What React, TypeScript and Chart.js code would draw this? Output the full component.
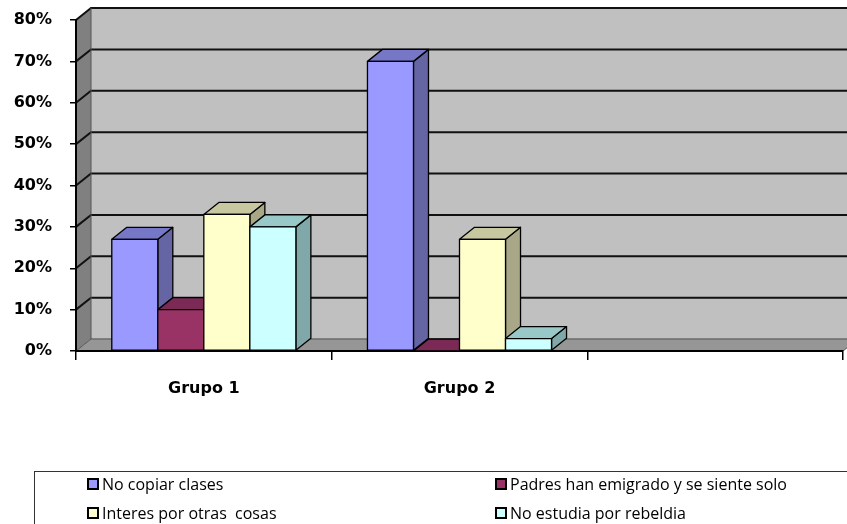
import React, { useEffect, useRef } from "react";
import { Chart, registerables } from "chart.js";

Chart.register(...registerables);

const categories = ["Grupo 1", "Grupo 2", ""];
const seriesNames = [
  "No copiar clases",
  "Padres han emigrado y se siente solo",
  "Interes por otras  cosas",
  "No estudia por rebeldia",
];
const noCopiar = [27, 70, null];
const padres = [10, 0, null];
const interes = [33, 27, null];
const rebeldia = [30, 3, null];
const yTicks = [0, 10, 20, 30, 40, 50, 60, 70, 80];

const frontColors = ["#9999FF", "#993366", "#FFFFCC", "#CCFFFF"];
const sideColors = ["#6565A3", "#6E2248", "#A8A888", "#80A8A8"];
const topColors = ["#7777C8", "#7A2A55", "#C8C8A0", "#99C8C8"];

const DX = 15;
const DY = -12;

const threeD = {
  id: "threeD",
  beforeDraw(chart: any) {
    const { ctx, chartArea } = chart;
    const y = chart.scales.y;
    const L = chartArea.left;
    const R = chartArea.right;
    const T = y.getPixelForValue(80);
    const B = y.getPixelForValue(0);
    ctx.save();
    ctx.fillStyle = "#C0C0C0";
    ctx.fillRect(L + DX, T + DY, R - L + 40, B - T);
    ctx.fillStyle = "#808080";
    ctx.beginPath();
    ctx.moveTo(L, T);
    ctx.lineTo(L + DX, T + DY);
    ctx.lineTo(L + DX, B + DY);
    ctx.lineTo(L, B);
    ctx.closePath();
    ctx.fill();
    ctx.fillStyle = "#969696";
    ctx.beginPath();
    ctx.moveTo(L, B);
    ctx.lineTo(R, B);
    ctx.lineTo(R + DX, B + DY);
    ctx.lineTo(L + DX, B + DY);
    ctx.closePath();
    ctx.fill();
    ctx.strokeStyle = "#6a6a6a";
    ctx.lineWidth = 1.5;
    ctx.beginPath();
    ctx.moveTo(L + DX, B + DY);
    ctx.lineTo(R + DX + 20, B + DY);
    ctx.stroke();
    ctx.strokeStyle = "#111";
    ctx.lineWidth = 2;
    yTicks.forEach((v) => {
      if (v === 0) return;
      const py = y.getPixelForValue(v);
      ctx.beginPath();
      ctx.moveTo(L, py);
      ctx.lineTo(L + DX, py + DY);
      ctx.lineTo(R + DX + 20, py + DY);
      ctx.stroke();
    });
    ctx.strokeStyle = "#555";
    ctx.lineWidth = 1;
    ctx.beginPath();
    ctx.moveTo(L, B);
    ctx.lineTo(L + DX, B + DY);
    ctx.lineTo(L + DX, T + DY);
    ctx.stroke();
    ctx.beginPath();
    ctx.moveTo(R, B);
    ctx.lineTo(R + DX, B + DY);
    ctx.stroke();
    ctx.restore();
  },
  afterDatasetsDraw(chart: any) {
    const { ctx } = chart;
    const bars: any[] = [];
    chart.data.datasets.forEach((ds: any, di: number) => {
      const meta = chart.getDatasetMeta(di);
      meta.data.forEach((el: any, i: number) => {
        if (ds.data[i] === null || ds.data[i] === undefined) return;
        const p = el.getProps(["x", "y", "base", "width"], true);
        bars.push({ ...p, di });
      });
    });
    bars.sort((a, b) => a.x - b.x);
    ctx.save();
    ctx.strokeStyle = "#000";
    ctx.lineWidth = 1.3;
    ctx.lineJoin = "round";
    bars.forEach((b) => {
      const l = b.x - b.width / 2;
      const r = b.x + b.width / 2;
      const t = Math.min(b.y, b.base);
      const bs = Math.max(b.y, b.base);
      ctx.fillStyle = sideColors[b.di];
      ctx.beginPath();
      ctx.moveTo(r, t);
      ctx.lineTo(r + DX, t + DY);
      ctx.lineTo(r + DX, bs + DY);
      ctx.lineTo(r, bs);
      ctx.closePath();
      ctx.fill();
      ctx.stroke();
      ctx.fillStyle = topColors[b.di];
      ctx.beginPath();
      ctx.moveTo(l, t);
      ctx.lineTo(l + DX, t + DY);
      ctx.lineTo(r + DX, t + DY);
      ctx.lineTo(r, t);
      ctx.closePath();
      ctx.fill();
      ctx.stroke();
      if (bs - t > 0.5) {
        ctx.fillStyle = frontColors[b.di];
        ctx.fillRect(l, t, r - l, bs - t);
        ctx.strokeRect(l, t, r - l, bs - t);
      }
    });
    ctx.restore();
  },
};

const tickFont = { family: "DejaVu Sans", size: 16, weight: "bold" as const };

export default function App() {
  const ref = useRef<HTMLCanvasElement | null>(null);
  useEffect(() => {
    document.body.style.margin = "0";
    const chart = new Chart(ref.current as HTMLCanvasElement, {
      type: "bar",
      data: {
        labels: categories,
        datasets: [noCopiar, padres, interes, rebeldia].map((d, i) => ({
          label: seriesNames[i],
          data: d,
          backgroundColor: frontColors[i],
          borderColor: "#000",
          borderWidth: 1,
          categoryPercentage: 0.72,
          barPercentage: 1.0,
        })),
      },
      options: {
        responsive: false,
        animation: false,
        layout: { padding: { top: 20, right: 4, left: 0, bottom: 0 } },
        plugins: { legend: { display: false }, tooltip: { enabled: false } },
        scales: {
          x: {
            afterFit: (s: any) => {
              s.height = 173;
              s.paddingLeft = 0;
              s.paddingRight = 0;
              s.paddingTop = 0;
              s.paddingBottom = 0;
            },
            grid: {
              display: true,
              offset: true,
              drawOnChartArea: false,
              drawTicks: true,
              tickLength: 9,
              color: "#000",
              lineWidth: 1.5,
            },
            border: { display: true, color: "#000", width: 2 },
            ticks: { font: tickFont, color: "#000", padding: 19 },
          },
          y: {
            min: 0,
            max: 80,
            afterFit: (s: any) => {
              s.width = 76;
              s.paddingTop = 0;
              s.paddingBottom = 0;
              s.paddingLeft = 0;
              s.paddingRight = 0;
            },
            afterBuildTicks: (s: any) => {
              s.ticks = yTicks.map((v) => ({ value: v }));
            },
            grid: {
              display: true,
              drawOnChartArea: false,
              drawTicks: true,
              tickLength: 6,
              color: "#000",
              lineWidth: 1.5,
            },
            border: { display: true, color: "#000", width: 2 },
            ticks: {
              font: tickFont,
              color: "#000",
              padding: 18,
              callback: (v: any) => v + "%",
            },
          },
        },
      },
      plugins: [threeD],
    });
    return () => chart.destroy();
  }, []);

  const legendItems = [
    { name: seriesNames[0], color: frontColors[0], left: 87, top: 477 },
    { name: seriesNames[1], color: frontColors[1], left: 495, top: 477 },
    { name: seriesNames[2], color: frontColors[2], left: 87, top: 506 },
    { name: seriesNames[3], color: frontColors[3], left: 495, top: 506 },
  ];

  return (
    <div style={{ position: "relative", width: 847, height: 524, overflow: "hidden", background: "#fff" }}>
      <canvas ref={ref} width={847} height={524} style={{ position: "absolute", left: 0, top: 0 }} />
      <div
        style={{
          position: "absolute",
          left: 34,
          top: 471,
          width: 900,
          height: 100,
          borderTop: "1.5px solid #333",
          borderLeft: "1.5px solid #333",
          boxSizing: "border-box",
        }}
      />
      {legendItems.map((it, i) => (
        <div
          key={i}
          style={{
            position: "absolute",
            left: it.left,
            top: it.top,
            display: "flex",
            alignItems: "center",
            height: 14,
            whiteSpace: "pre",
            fontFamily: "'Open Sans', sans-serif",
            fontSize: 16,
            color: "#000",
          }}
        >
          <span
            style={{
              display: "inline-block",
              width: 12,
              height: 12,
              boxSizing: "border-box",
              border: "2px solid #000",
              background: it.color,
              marginRight: 3,
            }}
          />
          <span>{it.name}</span>
        </div>
      ))}
    </div>
  );
}
